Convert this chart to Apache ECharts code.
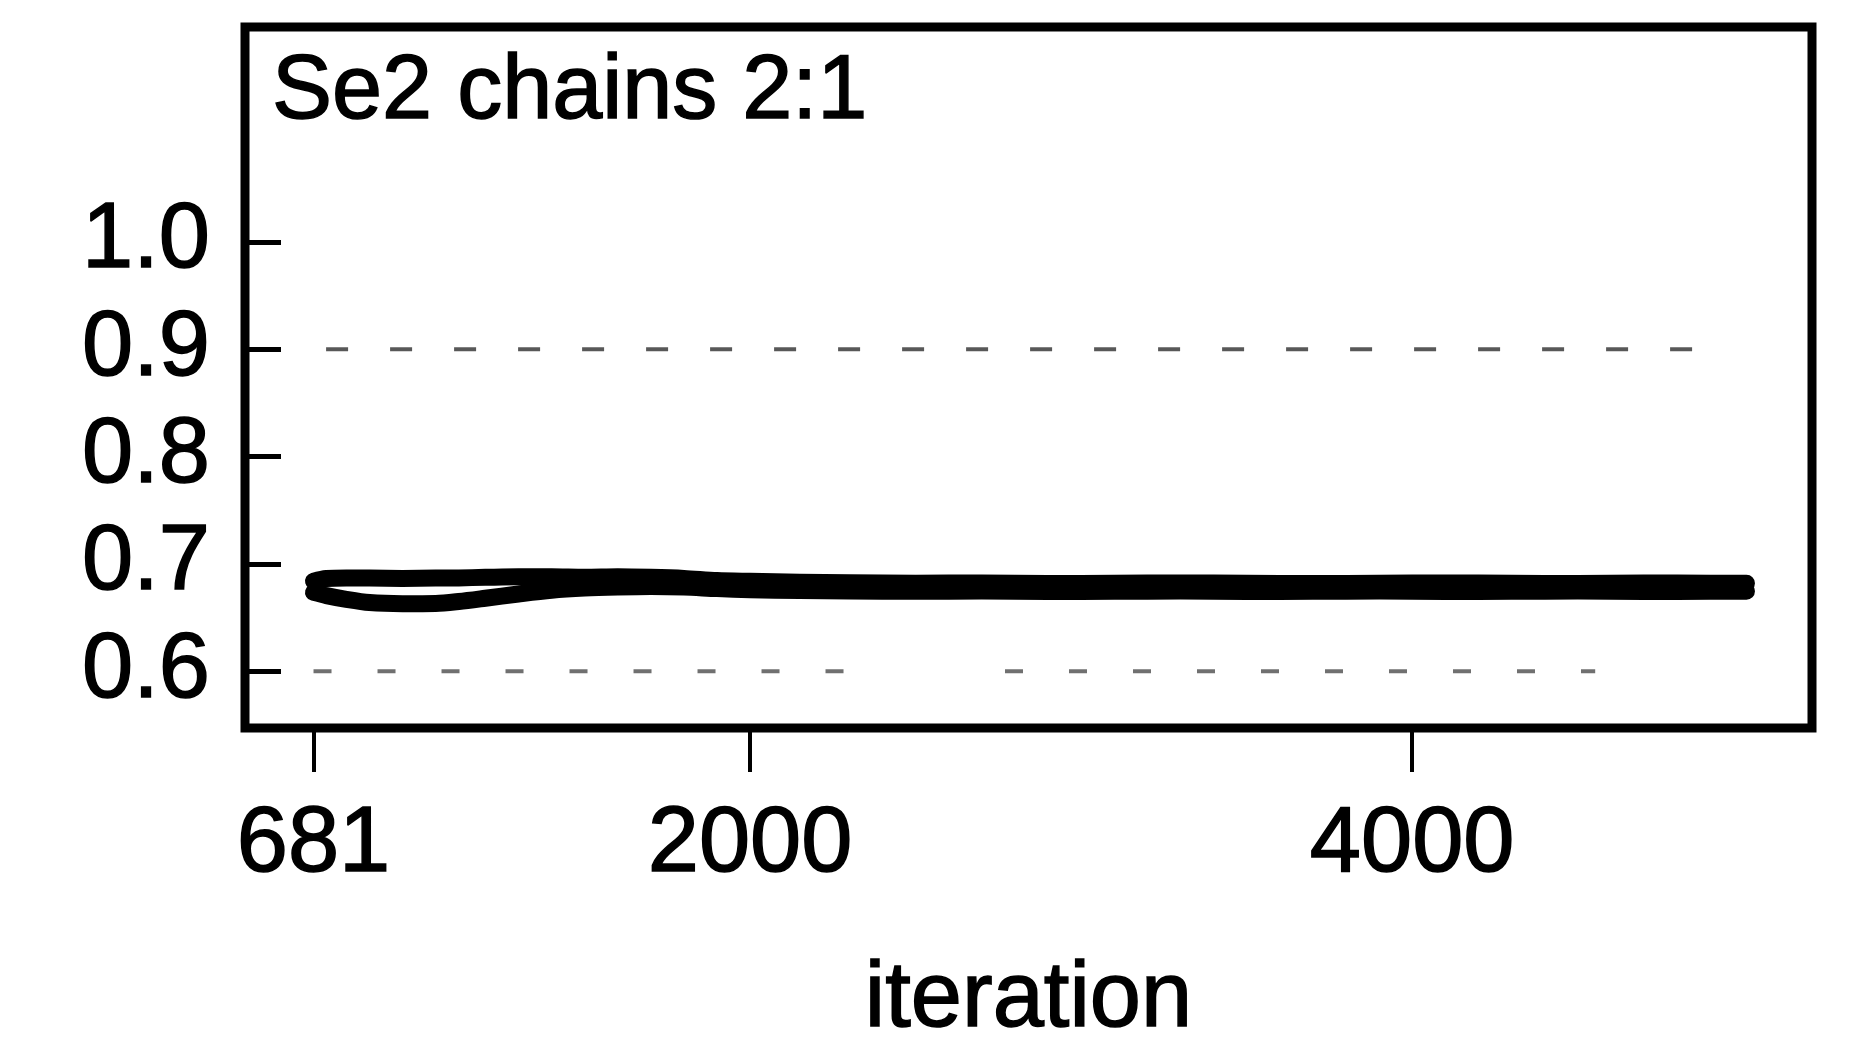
<!DOCTYPE html>
<html>
<head>
<meta charset="utf-8">
<script src="https://cdn.jsdelivr.net/npm/echarts@6/dist/echarts.min.js"></script>
<style>
html,body{margin:0;padding:0;background:#fff;}
#c{width:1853px;height:1054px;}
</style>
</head>
<body>
<div id="c"></div>
<script>
// ---- data ----
const titleText = 'Se2 chains 2:1';
const xTicks = [681, 2000, 4000];
const yTicks = [0.6, 0.7, 0.8, 0.9, 1.0];
const iterations = [681, 720, 780, 850, 950, 1050, 1120, 1200, 1300, 1400, 1500, 1600, 1700, 1800, 1900, 2000, 2150, 2300, 2500, 2700, 2900, 3100, 3300, 3500, 3700, 3900, 4100, 4300, 4500, 4700, 4900, 5010];
const chain1 = [0.684, 0.6865, 0.687, 0.6868, 0.6865, 0.6868, 0.687, 0.6875, 0.688, 0.688, 0.6875, 0.688, 0.6875, 0.6865, 0.6845, 0.6838, 0.683, 0.6825, 0.682, 0.6823, 0.6818, 0.682, 0.6823, 0.682, 0.6818, 0.682, 0.6823, 0.682, 0.6818, 0.6823, 0.682, 0.682];
const chain2 = [0.6735, 0.6705, 0.667, 0.664, 0.663, 0.6632, 0.665, 0.668, 0.672, 0.6755, 0.6775, 0.6785, 0.679, 0.6785, 0.677, 0.676, 0.6752, 0.6748, 0.6745, 0.6747, 0.6743, 0.6745, 0.6747, 0.6743, 0.6745, 0.6747, 0.6743, 0.6745, 0.6747, 0.6743, 0.6745, 0.6745];
const upperRefX = [719, 4937];
const upperRefY = 0.9;
const lowerRefX = [681, 2305, null, 2770, 4553];
const lowerRefY = 0.6;

const FONT = "'Liberation Sans', Arial, Helvetica, sans-serif";
const TXT = {fontFamily: FONT, fontSize: 92, fontWeight: 'normal', color: '#000', textBorderColor: '#000', textBorderWidth: 1.5};
const pairs = (xs, ys) => xs.map((x, i) => [x, ys[i]]);
const refPairs = (xs, y) => xs.map(x => x === null ? [null, null] : [x, y]);

const chart = echarts.init(document.getElementById('c'), null, {renderer: 'canvas'});
chart.setOption({
  animation: false,
  backgroundColor: '#fff',
  title: {
    text: titleText,
    left: 272, top: 48, padding: 0,
    textStyle: Object.assign({}, TXT, {fontSize: 90})
  },
  grid: {
    left: 245, right: 41, top: 27, bottom: 326,
    show: true, borderColor: '#000', borderWidth: 9, backgroundColor: 'transparent'
  },
  xAxis: {
    type: 'value', min: 474, max: 5208,
    name: 'iteration', nameLocation: 'middle', nameGap: 227,
    nameTextStyle: TXT,
    axisLine: {show: false},
    splitLine: {show: false},
    axisTick: {show: true, inside: false, length: 44, customValues: xTicks, lineStyle: {color: '#000', width: 4}},
    axisLabel: Object.assign({show: true, margin: 72, customValues: xTicks, formatter: v => String(Math.round(v))}, TXT)
  },
  yAxis: {
    type: 'value', min: 0.5471, max: 1.2004,
    axisLine: {show: false},
    splitLine: {show: false},
    axisTick: {show: true, inside: true, length: 36, customValues: yTicks, lineStyle: {color: '#000', width: 5}},
    axisLabel: Object.assign({show: true, margin: 35, customValues: yTicks, formatter: v => Number(v).toFixed(1)}, TXT)
  },
  series: [
    {type: 'line', data: refPairs(upperRefX, upperRefY), showSymbol: false, connectNulls: false,
     lineStyle: {color: '#111', width: 4, type: [22, 42], opacity: 0.7}},
    {type: 'line', data: refPairs(lowerRefX, lowerRefY), showSymbol: false, connectNulls: false,
     lineStyle: {color: '#111', width: 4, type: [18, 46], opacity: 0.6}},
    {type: 'line', data: pairs(iterations, chain1), showSymbol: false, smooth: 0.3,
     lineStyle: {color: '#000', width: 17, cap: 'round', join: 'round'}},
    {type: 'line', data: pairs(iterations, chain2), showSymbol: false, smooth: 0.3,
     lineStyle: {color: '#000', width: 17, cap: 'round', join: 'round'}}
  ]
});
</script>
</body>
</html>
